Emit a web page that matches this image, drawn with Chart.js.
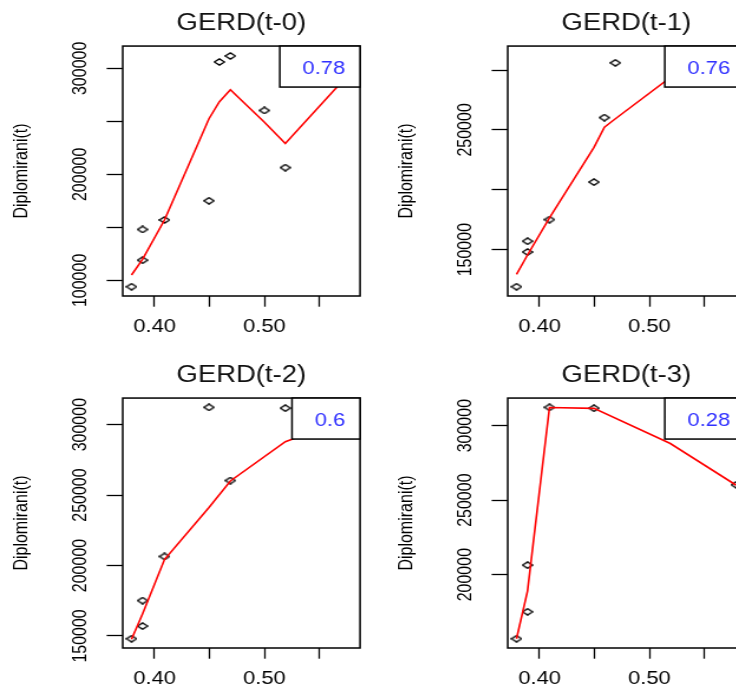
<!DOCTYPE html>
<html>
<head>
<meta charset="utf-8">
<script src="https://cdn.jsdelivr.net/npm/chart.js@4.4.1/dist/chart.umd.min.js"></script>
<style>
html, body { margin: 0; padding: 0; width: 736px; height: 688px; overflow: hidden; background: #fff; }
.panel { position: absolute; width: 327px; height: 352px; transform: scaleX(1.18); transform-origin: 0 0; }
</style>
</head>
<body>
<div class="panel" style="left:0px;top:0px"><canvas id="c0" width="327" height="352"></canvas></div>
<div class="panel" style="left:385px;top:0px"><canvas id="c1" width="327" height="352"></canvas></div>
<div class="panel" style="left:0px;top:352px"><canvas id="c2" width="327" height="352"></canvas></div>
<div class="panel" style="left:385px;top:352px"><canvas id="c3" width="327" height="352"></canvas></div>
<script>
const FONT = '"Liberation Sans", Arial, sans-serif';

// GERD and Diplomirani, t = 1..10
const gerd = [0.379, 0.389, 0.389, 0.409, 0.4495, 0.519, 0.579, 0.469, 0.459, 0.500];
const diplomirani = [94000, 119000, 148000, 157000, 175100, 206400, 312300, 311700, 306000, 260300];

const lags = [0, 1, 2, 3];
const titles = ['GERD(t-0)', 'GERD(t-1)', 'GERD(t-2)', 'GERD(t-3)'];
const corr = ['0.78', '0.76', '0.6', '0.28'];

// red smoothed curves
const fitX0 = [0.379, 0.389, 0.389, 0.409, 0.4495, 0.459, 0.469, 0.500, 0.519, 0.579];
const fitY0 = [105100, 119900, 119900, 156900, 252500, 268600, 279900, 249200, 229100, 297000];
const fitX1 = [0.379, 0.389, 0.389, 0.409, 0.4495, 0.459, 0.469, 0.519, 0.579];
const fitY1 = [129400, 145500, 145500, 176500, 235400, 252300, 259300, 293800, 306000];
const fitX2 = [0.379, 0.389, 0.389, 0.409, 0.4495, 0.469, 0.519, 0.579];
const fitY2 = [147600, 165600, 165600, 204200, 241200, 260000, 287900, 305000];
const fitX3 = [0.379, 0.389, 0.389, 0.409, 0.4495, 0.519, 0.579];
const fitY3 = [157000, 189000, 189000, 312200, 311600, 288000, 260000];
const fitX = [fitX0, fitX1, fitX2, fitX3];
const fitY = [fitY0, fitY1, fitY2, fitY3];

const xTicks = [0.40, 0.45, 0.50, 0.55];
const xTickLabels = ['0.40', '', '0.50', ''];
const yTicks = [
  [100000, 150000, 200000, 250000, 300000],
  [150000, 200000, 250000, 300000],
  [150000, 200000, 250000, 300000],
  [200000, 250000, 300000]
];
const yTickLabels = [
  ['100000', '', '200000', '', '300000'],
  ['150000', '', '250000', ''],
  ['150000', '200000', '250000', '300000'],
  ['200000', '250000', '300000']
];

function pairs(lag) {
  let pts = [];
  for (let i = 0; i + lag < gerd.length; i++) {
    pts.push({x: gerd[i], y: diplomirani[i + lag]});
  }
  return pts;
}

// R style axis range: data range plus 4% each side
function padRange(vals) {
  const lo = Math.min(...vals), hi = Math.max(...vals);
  const d = (hi - lo) * 0.04;
  return [lo - d, hi + d];
}

function diamond() {
  const c = document.createElement('canvas');
  c.width = 10; c.height = 8;
  const g = c.getContext('2d');
  g.lineWidth = 1.3;
  g.strokeStyle = '#000';
  g.beginPath();
  g.moveTo(0.6, 4); g.lineTo(5, 0.9); g.lineTo(9.4, 4); g.lineTo(5, 7.1);
  g.closePath();
  g.stroke();
  return c;
}
const mark = diamond();

// plot frame + the white box with the correlation in the top right corner
const corrBox = {
  id: 'corrBox',
  afterDatasetsDraw(chart, args, opts) {
    const ctx = chart.ctx, a = chart.chartArea;
    ctx.save();
    ctx.lineWidth = 1.5;
    ctx.strokeStyle = '#000';
    ctx.strokeRect(a.left, a.top, a.right - a.left, a.bottom - a.top);
    ctx.font = '18.6px ' + FONT;
    const tw = ctx.measureText(opts.text).width;
    const w = tw + 31.8, h = 41;
    const x0 = a.right - w;
    ctx.fillStyle = '#fff';
    ctx.fillRect(x0, a.top, w, h);
    ctx.strokeRect(x0, a.top, w, h);
    ctx.fillStyle = '#3030ff';
    ctx.textBaseline = 'middle';
    ctx.fillText(opts.text, x0 + 19.2, a.top + 22.6);
    ctx.restore();
  }
};

for (let k = 0; k < 4; k++) {
  const pts = pairs(lags[k]);
  const xr = padRange(pts.map(p => p.x));
  const yr = padRange(pts.map(p => p.y));

  new Chart(document.getElementById('c' + k), {
    type: 'scatter',
    data: {
      datasets: [
        {
          data: fitX[k].map((x, i) => ({x: x, y: fitY[k][i]})),
          showLine: true,
          borderColor: '#ff0000',
          borderWidth: 1.6,
          pointRadius: 0,
          order: 0
        },
        {
          data: pts,
          pointStyle: mark,
          pointRadius: 4,
          order: 1
        }
      ]
    },
    options: {
      responsive: false,
      animation: false,
      events: [],
      layout: { padding: { left: 0, right: 21.9, top: 0, bottom: 0 } },
      plugins: {
        legend: { display: false },
        tooltip: { enabled: false },
        title: {
          display: true,
          text: titles[k],
          fullSize: false,
          color: '#111',
          font: { family: FONT, size: 23.3, weight: 'normal', lineHeight: 1.2 },
          padding: { top: 9.5, bottom: 8.6 }
        },
        corrBox: { text: corr[k] }
      },
      scales: {
        x: {
          type: 'linear',
          min: xr[0],
          max: xr[1],
          afterBuildTicks: s => { s.ticks = xTicks.map(v => ({value: v})); },
          afterFit: s => { s.height = 56; },
          grid: { drawOnChartArea: false, tickLength: 10.7, tickColor: '#000', tickWidth: 1.3 },
          border: { display: false },
          ticks: {
            autoSkip: false, maxRotation: 0, padding: 8.9, color: '#000',
            font: { family: FONT, size: 18.6 },
            callback: (v, i) => xTickLabels[i]
          }
        },
        y: {
          type: 'linear',
          min: yr[0],
          max: yr[1],
          afterBuildTicks: s => { s.ticks = yTicks[k].map(v => ({value: v})); },
          afterFit: s => { s.width = 104; },
          grid: { drawOnChartArea: false, tickLength: 13.6, tickColor: '#000', tickWidth: 1.3 },
          border: { display: false },
          ticks: {
            autoSkip: false, minRotation: 90, maxRotation: 90, crossAlign: 'center',
            padding: -4.9, color: '#000',
            font: { family: FONT, size: 16 },
            callback: (v, i) => yTickLabels[k][i]
          },
          title: {
            display: true,
            text: 'Diplomirani(t)',
            color: '#000',
            font: { family: FONT, size: 16 },
            padding: { top: 9, bottom: 0 }
          }
        }
      }
    },
    plugins: [corrBox]
  });
}
</script>
</body>
</html>
